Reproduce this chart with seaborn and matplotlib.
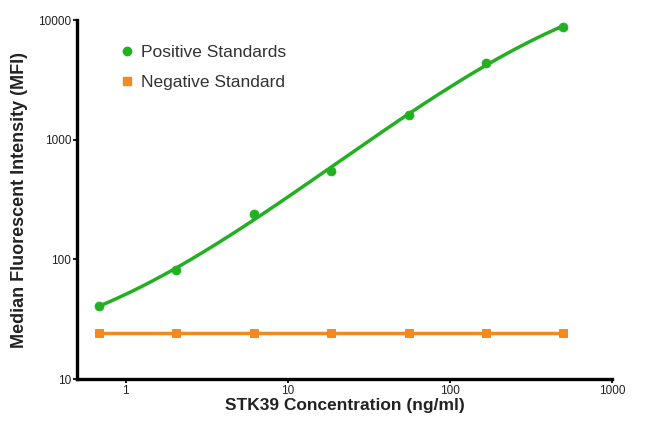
import numpy as np
import pandas as pd
import matplotlib
matplotlib.use('Agg')
import matplotlib.pyplot as plt
from matplotlib.lines import Line2D
import seaborn as sns

# 数据
conc = [0.686, 2.06, 6.17, 18.5, 55.6, 167, 500]
pos_mfi = [41, 81, 238, 545, 1620, 4400, 8800]
neg_mfi = [24.5, 24.5, 24.5, 24.5, 24.5, 24.5, 24.5]
x_ticks = [1, 10, 100, 1000]
y_ticks = [10, 100, 1000, 10000]

green = '#22b022'
orange = '#f28a1e'

sns.set_theme(style='ticks')
plt.rcParams['font.family'] = ['Liberation Sans', 'DejaVu Sans']

fig = plt.figure(figsize=(6.5, 4.26), dpi=100)
ax = fig.add_axes([0.118, 0.110, 0.824, 0.843])

# 拟合曲线（log-log 三次多项式）
lx = np.log10(conc)
ly = np.log10(pos_mfi)
coef = np.polyfit(lx, ly, 3)
gx = np.linspace(lx.min(), lx.max(), 200)
fit_df = pd.DataFrame({'x': 10 ** gx, 'y': 10 ** np.polyval(coef, gx)})

sns.lineplot(data=fit_df, x='x', y='y', color=green, lw=2.5, ax=ax)
sns.scatterplot(x=conc, y=pos_mfi, color=green, s=42, edgecolor=green, ax=ax, zorder=3)
sns.lineplot(x=conc, y=neg_mfi, color=orange, lw=2.5, marker='s', markersize=6,
             markeredgecolor=orange, ax=ax)

ax.set_xscale('log')
ax.set_yscale('log')
ax.set_xlim(0.5, 1000)
ax.set_ylim(10, 10000)
ax.set_xticks(x_ticks)
ax.set_xticklabels([str(t) for t in x_ticks])
ax.set_yticks(y_ticks)
ax.set_yticklabels([str(t) for t in y_ticks])
ax.minorticks_off()

for s in ['top', 'right']:
    ax.spines[s].set_visible(False)
for s in ['left', 'bottom']:
    ax.spines[s].set_linewidth(2.4)
    ax.spines[s].set_color('black')
ax.tick_params(axis='both', length=3, width=1.5, labelsize=8.5, colors='#222222', pad=1)

ax.set_xlabel('STK39 Concentration (ng/ml)', fontsize=12.5, fontweight='bold',
              labelpad=1, color='#222222')
ax.set_ylabel('Median Fluorescent Intensity (MFI)', fontsize=13, fontweight='bold',
              labelpad=7, color='#222222')

handles = [
    Line2D([], [], marker='o', color=green, ls='none', markersize=6),
    Line2D([], [], marker='s', color=orange, ls='none', markersize=6),
]
ax.legend(handles, ['Positive Standards', 'Negative Standard'], loc='upper left',
          bbox_to_anchor=(0.045, 0.975), frameon=False, fontsize=12.5,
          handletextpad=0.2, handlelength=1.2, labelspacing=0.85, labelcolor='#333333')

fig.savefig('out.png', dpi=100)
